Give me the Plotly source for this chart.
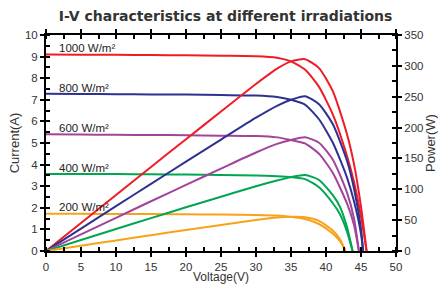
import plotly.graph_objects as go

# ---- data ----
irradiance_labels = ["1000 W/m²", "800 W/m²", "600 W/m²", "400 W/m²", "200 W/m²"]
colors = ["#ee1c25", "#2e3192", "#a2449a", "#00a651", "#f7a21b"]

v_1000 = [0, 5, 10, 15, 20, 25, 30, 33, 35, 37, 39, 41, 43, 44, 45, 45.8]
i_1000 = [9.10, 9.09, 9.08, 9.07, 9.06, 9.04, 9.02, 8.95, 8.78, 8.40, 7.60, 6.30, 4.40, 3.20, 1.60, 0]
p_1000 = [0, 45.5, 90.8, 136.1, 181.2, 226.0, 270.6, 295.4, 307.3, 310.8, 296.4, 258.3, 189.2, 140.8, 72.0, 0]

v_800 = [0, 5, 10, 15, 20, 25, 30, 33, 35, 37, 39, 41, 43, 44, 45, 45.3]
i_800 = [7.28, 7.27, 7.26, 7.25, 7.24, 7.22, 7.20, 7.13, 7.00, 6.78, 6.10, 5.00, 3.40, 2.30, 0.80, 0]
p_800 = [0, 36.4, 72.6, 108.8, 144.8, 180.5, 216.0, 235.3, 245.0, 250.9, 237.9, 205.0, 146.2, 101.2, 36.0, 0]

v_600 = [0, 5, 10, 15, 20, 25, 30, 33, 35, 37, 39, 41, 43, 44, 44.7]
i_600 = [5.40, 5.39, 5.38, 5.37, 5.36, 5.34, 5.32, 5.26, 5.14, 4.98, 4.50, 3.60, 2.20, 1.20, 0]
p_600 = [0, 27.0, 53.8, 80.6, 107.2, 133.5, 159.6, 173.6, 179.9, 184.3, 175.5, 147.6, 94.6, 52.8, 0]

v_400 = [0, 5, 10, 15, 20, 25, 30, 33, 35, 37, 39, 41, 42, 43, 43.8]
i_400 = [3.57, 3.565, 3.56, 3.55, 3.54, 3.52, 3.50, 3.46, 3.42, 3.33, 2.95, 2.20, 1.70, 0.90, 0]
p_400 = [0, 17.8, 35.6, 53.3, 70.8, 88.0, 105.0, 114.2, 119.7, 123.2, 115.1, 90.2, 71.4, 38.7, 0]

v_200 = [0, 5, 10, 15, 20, 25, 30, 33, 35, 37, 39, 41, 42, 42.8]
i_200 = [1.72, 1.72, 1.715, 1.71, 1.70, 1.69, 1.67, 1.64, 1.58, 1.48, 1.25, 0.80, 0.45, 0]
p_200 = [0, 8.6, 17.2, 25.7, 34.0, 42.3, 50.1, 54.1, 55.3, 54.8, 48.8, 32.8, 18.9, 0]

label_current = [9.38, 7.55, 5.68, 3.86, 2.02]

series = [
    (v_1000, i_1000, p_1000),
    (v_800, i_800, p_800),
    (v_600, i_600, p_600),
    (v_400, i_400, p_400),
    (v_200, i_200, p_200),
]

fig = go.Figure()
for (v, i, p), col, name in zip(series, colors, irradiance_labels):
    fig.add_trace(go.Scatter(x=v, y=i, mode="lines", name=name,
                             line=dict(color=col, width=2, shape="spline", smoothing=0.6)))
    fig.add_trace(go.Scatter(x=v, y=p, mode="lines", name=name + " P", yaxis="y2",
                             line=dict(color=col, width=2, shape="spline", smoothing=0.6)))

for name, yc in zip(irradiance_labels, label_current):
    fig.add_annotation(x=1.5, y=yc, text=name, showarrow=False, xanchor="left",
                       yanchor="middle", font=dict(size=11.5, color="#222"))

# x-axis title placed just below the tick labels
fig.add_annotation(x=0.5, y=-0.158, xref="paper", yref="paper", text="Voltage(V)",
                   showarrow=False, xanchor="center", yanchor="bottom", borderpad=0,
                   font=dict(size=12, color="#333"))

font_fam = "Liberation Sans, Arial, sans-serif"
axis_common = dict(showline=True, linecolor="black", linewidth=2, ticks="outside",
                   ticklen=4, tickwidth=2, tickcolor="black", showgrid=False,
                   zeroline=False, automargin=False, tickfont=dict(size=11.5, color="#333"))

fig.update_layout(
    width=438, height=284,
    margin=dict(l=46, r=42, t=35, b=33),
    paper_bgcolor="white", plot_bgcolor="white",
    showlegend=False,
    font=dict(family=font_fam, color="#333"),
    title=dict(text="<b>I-V characteristics at different irradiations</b>",
               x=0.515, xanchor="center", y=0.962, yanchor="top",
               font=dict(size=14, family="DejaVu Sans, sans-serif", color="#333")),
    xaxis=dict(range=[0, 50], dtick=5, mirror="allticks",
               minor=dict(dtick=2.5, ticks="inside", ticklen=4, tickwidth=2, tickcolor="black"),
               **axis_common),
    yaxis=dict(range=[0, 10], dtick=1,
               minor=dict(dtick=0.5, ticks="inside", ticklen=4, tickwidth=2, tickcolor="black"),
               title=dict(text="Current(A)", standoff=2, font=dict(size=13)),
               **axis_common),
    yaxis2=dict(range=[0, 350], dtick=50, overlaying="y", side="right",
                minor=dict(dtick=25, ticks="inside", ticklen=4, tickwidth=2, tickcolor="black"),
                title=dict(text="Power(W)", standoff=4, font=dict(size=13)),
                **axis_common),
)

fig.write_html("out.html", config={"displayModeBar": False},
               post_script="document.body.style.margin='0';document.body.style.overflow='hidden';")
